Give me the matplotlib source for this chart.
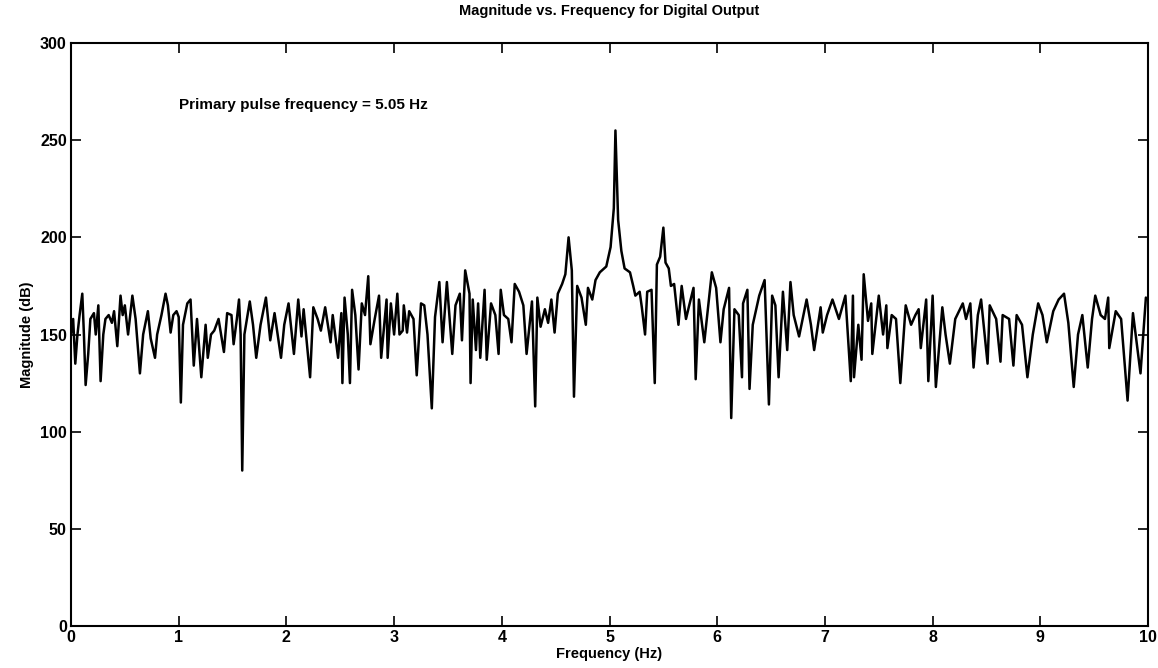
import numpy as np
from matplotlib import pyplot as plt

plt.rcParams['font.family'] = ['Liberation Sans', 'DejaVu Sans']
plt.rcParams['font.weight'] = 'bold'

# values (Hz, dB)
freq = [0.00, 0.02, 0.04, 0.06, 0.08, 0.105, 0.12, 0.136, 0.16, 0.18, 0.213, 0.23, 0.254, 0.275,
        0.30, 0.32, 0.35, 0.38, 0.40, 0.43, 0.46, 0.48, 0.50, 0.53, 0.57, 0.60, 0.64, 0.67,
        0.714, 0.74, 0.78, 0.80, 0.84, 0.878, 0.90, 0.925, 0.95, 0.98,
        1.00, 1.02, 1.04, 1.08, 1.11, 1.14, 1.17, 1.21, 1.25, 1.27, 1.30, 1.33, 1.37, 1.42,
        1.45, 1.49, 1.51, 1.54, 1.56, 1.575, 1.59, 1.61, 1.66, 1.69, 1.72, 1.76, 1.81, 1.85,
        1.89, 1.95, 1.98,
        2.02, 2.07, 2.11, 2.14, 2.16, 2.22, 2.25, 2.29, 2.32, 2.36, 2.41, 2.43, 2.48, 2.51,
        2.52, 2.54, 2.57, 2.59, 2.61, 2.64, 2.67, 2.70, 2.73, 2.76, 2.78, 2.82, 2.86, 2.88,
        2.93, 2.94, 2.97,
        3.00, 3.03, 3.05, 3.08, 3.09, 3.12, 3.14, 3.18, 3.21, 3.25, 3.28, 3.31, 3.35, 3.38,
        3.42, 3.45, 3.49, 3.54, 3.57, 3.61, 3.63, 3.66, 3.70, 3.71, 3.73, 3.76, 3.78, 3.80,
        3.84, 3.86, 3.90, 3.94, 3.97, 3.99,
        4.02, 4.06, 4.09, 4.12, 4.16, 4.20, 4.23, 4.28, 4.31, 4.33, 4.36, 4.40, 4.43, 4.46,
        4.49, 4.52, 4.56, 4.59, 4.62, 4.65, 4.67, 4.70, 4.74, 4.78, 4.80, 4.84, 4.87, 4.91,
        4.97,
        5.01, 5.04, 5.055, 5.08, 5.11, 5.14, 5.19, 5.22, 5.24, 5.28, 5.30, 5.33, 5.35, 5.39,
        5.42, 5.44, 5.47, 5.50, 5.52, 5.55, 5.57, 5.60, 5.64, 5.67, 5.71, 5.74, 5.78, 5.80,
        5.83, 5.88, 5.95, 5.99,
        6.03, 6.06, 6.11, 6.13, 6.16, 6.20, 6.23, 6.24, 6.28, 6.30, 6.33, 6.39, 6.44, 6.48,
        6.51, 6.54, 6.57, 6.61, 6.65, 6.68, 6.71, 6.76, 6.80, 6.83, 6.87, 6.90, 6.96, 6.98,
        7.02, 7.07, 7.13, 7.19, 7.24, 7.26, 7.27, 7.31, 7.34, 7.36, 7.40, 7.43, 7.44, 7.50,
        7.54, 7.57, 7.58, 7.62, 7.66, 7.70, 7.75, 7.80, 7.84, 7.87, 7.89, 7.94, 7.96,
        8.00, 8.03, 8.09, 8.12, 8.16, 8.21, 8.28, 8.31, 8.35, 8.38, 8.42, 8.45, 8.51, 8.53,
        8.59, 8.63, 8.65, 8.71, 8.75, 8.78, 8.83, 8.88, 8.93, 8.98,
        9.02, 9.06, 9.12, 9.17, 9.22, 9.26, 9.31, 9.35, 9.39, 9.44, 9.48, 9.51, 9.56, 9.60,
        9.63, 9.64, 9.70, 9.75, 9.81, 9.86, 9.93, 9.98, 10.00]

mag = [150, 158, 135, 150, 160, 171, 150, 124, 140, 158, 161, 150, 165, 126,
       150, 158, 160, 156, 162, 144, 170, 160, 165, 150, 170, 158, 130, 150,
       162, 148, 138, 150, 160, 171, 165, 151, 160, 162,
       159, 115, 155, 166, 168, 134, 158, 128, 155, 138, 150, 152, 158, 141,
       161, 160, 145, 158, 168, 150, 80, 150, 167, 155, 138, 155, 169, 147,
       161, 138, 155,
       166, 140, 168, 149, 163, 128, 164, 158, 152, 164, 146, 160, 138, 161,
       125, 169, 150, 125, 173, 160, 132, 166, 160, 180, 145, 158, 170, 138,
       168, 138, 166,
       150, 171, 150, 152, 165, 151, 162, 158, 129, 166, 165, 150, 112, 159,
       177, 146, 177, 140, 165, 171, 147, 183, 171, 125, 168, 142, 166, 138,
       173, 137, 166, 160, 140, 173,
       160, 158, 146, 176, 172, 165, 140, 167, 113, 169, 154, 163, 156, 168,
       151, 171, 176, 181, 200, 183, 118, 175, 169, 155, 174, 168, 178, 182,
       185,
       195, 215, 255, 209, 193, 184, 182, 175, 170, 172, 164, 150, 172, 173,
       125, 186, 190, 205, 187, 184, 175, 176, 155, 175, 158, 165, 174, 127,
       168, 146, 182, 174,
       146, 163, 174, 107, 163, 160, 128, 166, 173, 122, 155, 170, 178, 114,
       170, 165, 128, 172, 142, 177, 160, 149, 160, 168, 155, 142, 164, 151,
       160, 168, 158, 170, 126, 170, 128, 155, 137, 181, 157, 166, 140, 170,
       150, 165, 143, 160, 158, 125, 165, 155, 160, 163, 143, 168, 126,
       170, 123, 164, 150, 135, 158, 166, 158, 166, 133, 160, 168, 135, 165,
       158, 136, 160, 158, 134, 160, 155, 128, 150, 166,
       160, 146, 162, 168, 171, 156, 123, 150, 160, 133, 158, 170, 160, 158,
       169, 143, 162, 158, 116, 161, 130, 169, 168]

x_ticks = np.arange(0, 11, 1)
y_ticks = np.arange(0, 301, 50)

fig, ax = plt.subplots(figsize=(11.58, 6.68), dpi=100)
fig.subplots_adjust(left=0.0613, right=0.9914, bottom=0.0629, top=0.9356)

ax.plot(freq, mag, 'k-', linewidth=1.8)

ax.set_xlim(0, 10)
ax.set_ylim(0, 300)
ax.set_xticks(x_ticks)
ax.set_yticks(y_ticks)
ax.tick_params(direction='in', length=7, width=1.2, top=True, right=True,
               labelsize=11.5, pad=3)
for lab in ax.get_xticklabels() + ax.get_yticklabels():
    lab.set_fontweight('bold')
for s in ax.spines.values():
    s.set_linewidth(1.5)

ax.set_title('Magnitude vs. Frequency for Digital Output', fontsize=10.5,
             fontweight='bold', pad=20)
ax.set_xlabel('Frequency (Hz)', fontsize=10.5, fontweight='bold', labelpad=1)
ax.set_ylabel('Magnitude (dB)', fontsize=10.5, fontweight='bold', labelpad=4)
ax.text(1.0, 268, 'Primary pulse frequency = 5.05 Hz', fontsize=11,
        fontweight='bold', va='center')

fig.savefig('out.png')
